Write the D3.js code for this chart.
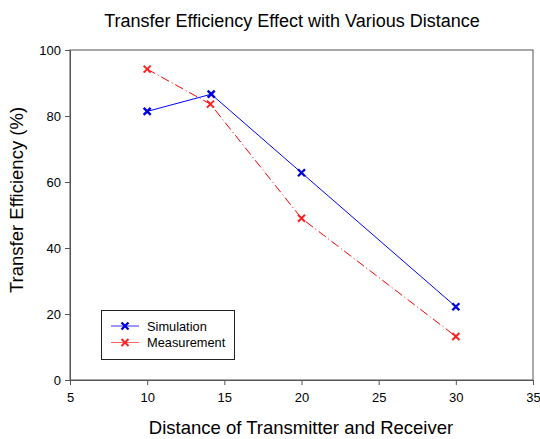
<!DOCTYPE html>
<html><head><meta charset="utf-8">
<script src="https://cdn.jsdelivr.net/npm/d3@7"></script>
<style>body{margin:0;background:#fff}svg{display:block}text{font-family:"Liberation Sans",Arial,sans-serif;fill:#000}</style>
</head><body><svg id="c" width="540" height="439"></svg>
<script>
const xTicks = [5, 10, 15, 20, 25, 30, 35];
const yTicks = [0, 20, 40, 60, 80, 100];
const simX = [10, 14.15, 20, 30];
const simY = [81.4, 86.6, 62.8, 22.2];
const measX = [10, 14.1, 20, 30];
const measY = [94.2, 83.6, 49.0, 13.2];
const seriesNames = ["Simulation", "Measurement"];

const svg = d3.select("#c");
const L = 70, R = 533, T = 50, B = 380;
const x = d3.scaleLinear().domain([5, 35]).range([L, R]);
const y = d3.scaleLinear().domain([0, 100]).range([B, T]);

svg.append("rect").attr("x", L).attr("y", T).attr("width", R - L).attr("height", B - T)
  .attr("fill", "none").attr("stroke", "#555").attr("stroke-width", 1);

const xa = svg.append("g").attr("transform", `translate(0,${B})`)
  .call(d3.axisBottom(x).tickValues(xTicks).tickSize(5).tickPadding(8).tickFormat(d3.format("d")));
const ya = svg.append("g").attr("transform", `translate(${L},0)`)
  .call(d3.axisLeft(y).tickValues(yTicks).tickSize(5).tickPadding(4).tickFormat(d3.format("d")));
[xa, ya].forEach(a => {
  a.select(".domain").attr("stroke", "#555");
  a.selectAll(".tick line").attr("stroke", "#555");
  a.selectAll(".tick text").attr("font-size", 13).attr("fill", "#000")
    .attr("font-family", "'Liberation Sans', Arial, sans-serif");
});

const line = d3.line().x(d => x(d[0])).y(d => y(d[1]));
const sim = simX.map((v, i) => [v, simY[i]]);
const meas = measX.map((v, i) => [v, measY[i]]);

svg.append("path").datum(meas).attr("d", line).attr("fill", "none")
  .attr("stroke", "#ff0000").attr("stroke-width", 1).attr("stroke-dasharray", "9,3,1,3");
svg.append("path").datum(sim).attr("d", line).attr("fill", "none")
  .attr("stroke", "#0000ff").attr("stroke-width", 1);

function marker(g, cx, cy, color, sw) {
  const s = 3.5;
  g.append("path").attr("d", `M${cx - s},${cy - s}L${cx + s},${cy + s}M${cx - s},${cy + s}L${cx + s},${cy - s}`)
    .attr("stroke", color).attr("stroke-width", sw).attr("fill", "none");
}
const mg = svg.append("g");
meas.forEach(d => marker(mg, x(d[0]), y(d[1]), "#ff2020", 2));
sim.forEach(d => marker(mg, x(d[0]), y(d[1]), "#0000dd", 2.4));

const lg = svg.append("g");
lg.append("rect").attr("x", 101.5).attr("y", 310.5).attr("width", 133).attr("height", 49)
  .attr("fill", "#fff").attr("stroke", "#222").attr("stroke-width", 1);
const legColors = ["#0000ff", "#ff0000"];
const markColors = ["#0000dd", "#ff2020"];
seriesNames.forEach((n, i) => {
  const ly = 326 + i * 16.5;
  lg.append("line").attr("x1", 111).attr("x2", 139).attr("y1", ly).attr("y2", ly)
    .attr("stroke", legColors[i]).attr("stroke-opacity", i ? 0.6 : 0.8).attr("stroke-width", 1);
  marker(lg, 125, ly, markColors[i], i ? 2 : 2.4);
  lg.append("text").attr("x", 147).attr("y", ly + 4.5).attr("font-size", 12.8).text(n);
});

svg.append("text").attr("x", 292).attr("y", 27).attr("text-anchor", "middle")
  .attr("font-size", 18).text("Transfer Efficiency Effect with Various Distance");
svg.append("text").attr("x", 301).attr("y", 434).attr("text-anchor", "middle")
  .attr("font-size", 18.5).text("Distance of Transmitter and Receiver");
svg.append("text").attr("transform", "translate(23,200) rotate(-90)").attr("text-anchor", "middle")
  .attr("font-size", 18.5).text("Transfer Efficiency (%)");
</script></body></html>
